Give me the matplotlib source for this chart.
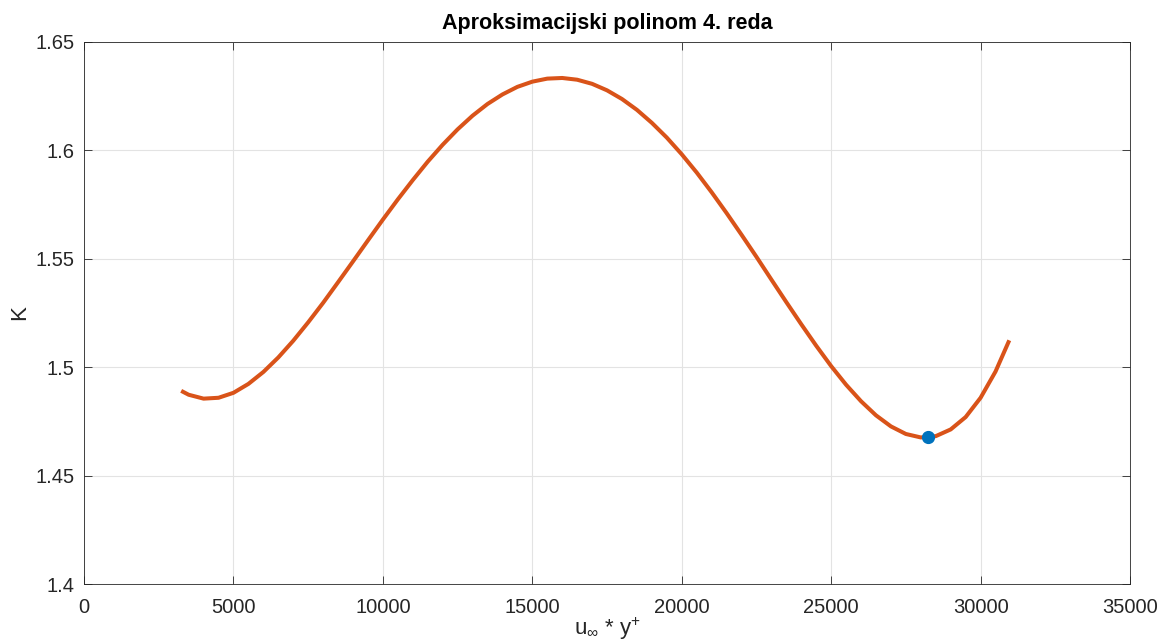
import matplotlib
matplotlib.use("Agg")
import matplotlib.pyplot as plt

plt.rcParams["font.family"] = ["Liberation Sans", "DejaVu Sans"]
plt.rcParams["mathtext.fontset"] = "custom"
plt.rcParams["mathtext.rm"] = "Liberation Sans"
plt.rcParams["mathtext.it"] = "Liberation Sans"

# fitted 4th order curve, sampled every 500
x_fit = [3250, 3500, 4000, 4500, 5000, 5500, 6000, 6500, 7000, 7500,
         8000, 8500, 9000, 9500, 10000, 10500, 11000, 11500, 12000, 12500,
         13000, 13500, 14000, 14500, 15000, 15500, 16000, 16500, 17000,
         17500, 18000, 18500, 19000, 19500, 20000, 20500, 21000, 21500,
         22000, 22500, 23000, 23500, 24000, 24500, 25000, 25500, 26000,
         26500, 27000, 27500, 28000, 28500, 29000, 29500, 30000, 30500,
         30960]
k_fit = [1.4891, 1.4873, 1.4855, 1.4859, 1.4882, 1.4923, 1.4978, 1.5045,
         1.5122, 1.5207, 1.5297, 1.5392, 1.5488, 1.5585, 1.5681, 1.5774,
         1.5863, 1.5948, 1.6026, 1.6097, 1.6160, 1.6214, 1.6258, 1.6293,
         1.6317, 1.6331, 1.6334, 1.6326, 1.6307, 1.6277, 1.6237, 1.6187,
         1.6127, 1.6059, 1.5982, 1.5898, 1.5807, 1.5711, 1.5611, 1.5509,
         1.5404, 1.5300, 1.5198, 1.5099, 1.5005, 1.4919, 1.4843, 1.4778,
         1.4727, 1.4692, 1.4676, 1.4682, 1.4713, 1.4770, 1.4859, 1.4980,
         1.5124]

# local minimum
x_min = [28250]
k_min = [1.4676]

DARK = "#262626"

fig = plt.figure(figsize=(11.61, 6.41), dpi=100)
ax = fig.add_axes([0.0724, 0.0889, 0.9009, 0.8456])

ax.plot(x_fit, k_fit, color="#D95319", lw=2.9, solid_joinstyle="round",
        solid_capstyle="butt", zorder=3)
ax.plot(x_min, k_min, "o", color="#0072BD", ms=8.5, zorder=4)

ax.set_xlim(0, 35000)
ax.set_ylim(1.4, 1.65)
ax.set_xticks(range(0, 35001, 5000))
ax.set_yticks([1.4, 1.45, 1.5, 1.55, 1.6, 1.65])
ax.set_yticklabels(["1.4", "1.45", "1.5", "1.55", "1.6", "1.65"])

ax.grid(True, color="#e3e3e3", lw=0.8)
ax.set_axisbelow(True)
ax.tick_params(direction="in", top=True, right=True, length=6, width=0.6,
               colors=DARK, labelsize=14.5)
ax.tick_params(axis="x", pad=10)
ax.tick_params(axis="y", pad=7)
for sp in ax.spines.values():
    sp.set_color(DARK)
    sp.set_linewidth(0.6)

ax.set_title("Aproksimacijski polinom 4. reda", fontsize=15.5,
             fontweight="bold", color="black", pad=9)
ax.set_xlabel(r"u$_{\infty}$ * y$^{+}$", fontsize=16, color=DARK, labelpad=-1)
ax.set_ylabel("K", fontsize=16, color=DARK, labelpad=4)

fig.savefig("out.png", dpi=100, facecolor="white")
plt.close(fig)
